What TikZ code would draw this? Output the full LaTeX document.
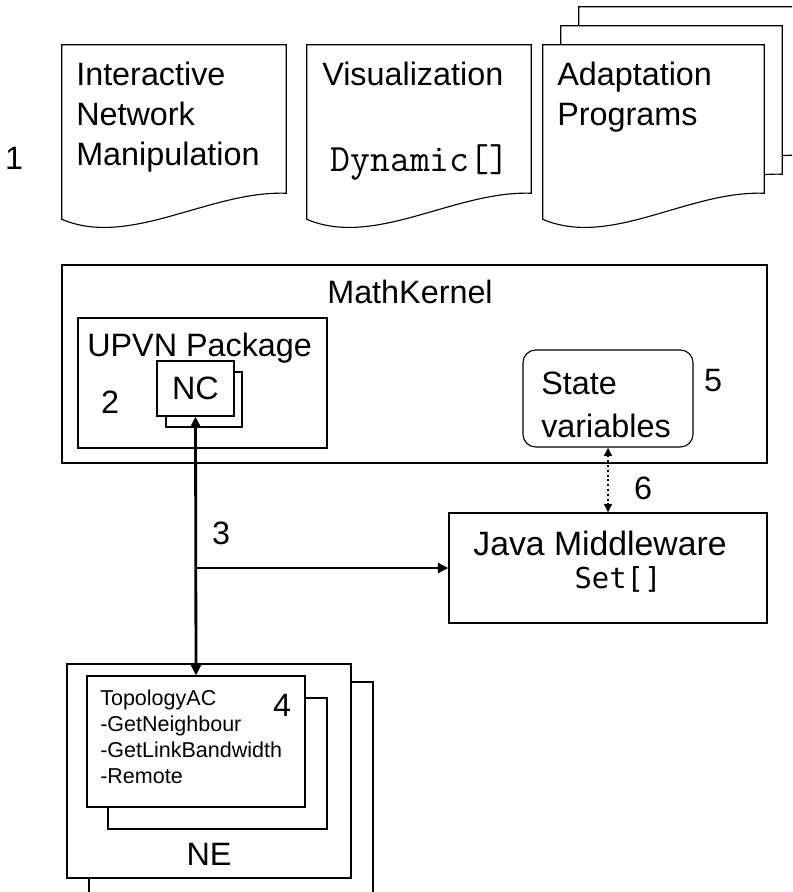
\documentclass[tikz,border=0pt]{standalone}
\usepackage{fontspec}
\setmainfont{Liberation Sans}
\newfontfamily\dejavumono{DejaVu Sans Mono}
\usepackage{tikz}
\usetikzlibrary{arrows.meta,calc,fit}
\newcommand{\bigtext}{\fontsize{23}{28.4}\selectfont}
\newcommand{\smalltext}{\fontsize{15.3}{18.5}\selectfont}
\tikzset{
  box/.style    = {draw, line width=0.8pt, fill=white, inner sep=0pt},
  page/.style   = {inner sep=0pt},
  txt/.style    = {font=\bigtext, inner sep=0pt, align=left},
  num/.style    = {font=\bigtext, inner sep=0pt},
  flow/.style   = {line width=2pt, -{Triangle[length=7.5pt,width=7pt]}},
  twoway/.style = {line width=2pt,
                   {Triangle[length=7.5pt,width=7pt]}-{Triangle[length=7.5pt,width=7pt]}},
  sync/.style   = {line width=1.4pt, dotted,
                   {Triangle[length=6pt,width=5.5pt]}-{Triangle[length=6pt,width=5.5pt]}}
}
% page outline with a wavy bottom edge
\newcommand{\docoutline}[1]{%
  \draw[line width=0.8pt, fill=white] (#1.north west) -- (#1.north east) -- (#1.south east)
    .. controls ($(#1.south east)+(-76,-3)$) and ($(#1.south west)+(68,55)$)
    .. ($(#1.south west)+(0,26)$) -- cycle;}

\begin{document}
\begin{tikzpicture}[x=0.025cm,y=-0.025cm]
 \useasboundingbox (0,0) rectangle (792,892);
 \clip (0,0) rectangle (792,892);

 % front end
 \node[num] (one) at (14,158) {1};
 \node[page, fit={(62,45)(286,193)}] (inter) {};
 \docoutline{inter}
 \node[txt, anchor=north west] (intertxt) at (76,62) {Interactive\\Network\\Manipulation};

 \node[page, fit={(307,45)(531,193)}] (visu) {};
 \docoutline{visu}
 \node[txt, anchor=north west] (visutxt) at (322,62) {Visualization};
 \node[inner sep=0pt, anchor=base, font=\ttfamily\fontsize{27.5}{30}\selectfont]
   (dyn) at (420,172) {Dynamic[]};

 \node[page, fit={(579,7)(800,155)}] (adaptc) {};
 \docoutline{adaptc}
 \node[page, fit={(561,26)(782,174)}] (adaptb) {};
 \docoutline{adaptb}
 \node[page, fit={(543,45)(764,193)}] (adapt) {};
 \docoutline{adapt}
 \node[txt, anchor=north west] (adapttxt) at (557,62) {Adaptation\\Programs};

 % kernel
 \node[box, fit={(62,265)(767,463)}] (kernel) {};
 \node[txt, anchor=base] (kerneltxt) at (410,303) {MathKernel};

 \node[box, fit={(78,318)(327,448)}] (upvn) {};
 \node[txt, anchor=base west] (upvntxt) at (87,356) {UPVN Package};
 \node[box, fit={(166,372)(242,427)}] (ncback) {};
 \node[box, fit={(157,361)(234,416)}, label={[txt]center:NC}] (nc) {};
 \node[num] (two) at (110,402) {2};

 \node[box, rounded corners=9pt, fit={(523,350)(693,447)}] (state) {};
 \node[txt, anchor=north west, font=\fontsize{23}{30.6}\selectfont] (statetxt) at (541,372) {State\\variables};
 \node[num] (five) at (713,381) {5};

 % middleware
 \node[box, fit={(449,513)(767,623)}] (java) {};
 \node[txt, anchor=base, font=\fontsize{24}{28}\selectfont] (javatxt) at (600,555) {Java Middleware};
 \node[inner sep=0pt, anchor=base, font=\dejavumono\fontsize{20.5}{24}\selectfont]
   (set) at (618,588) {Set[]};
 \node[num] (six) at (643,488) {6};

 % network elements
 \node[box, fit={(89,682)(373,950)}] (neback) {};
 \node[box, fit={(67,664)(351,878)}] (ne) {};
 \node[txt] (netxt) at (209,854) {NE};
 \node[box, fit={(108,698)(327,829)}] (topoback) {};
 \node[box, fit={(87,676)(305,807)}] (topo) {};
 \node[inner sep=0pt, anchor=north west, align=left, font=\smalltext]
   (topotxt) at (100,690) {TopologyAC\\-GetNeighbour\\-GetLinkBandwidth\\-Remote};
 \node[num] (four) at (282,705) {4};

 % connectors
 \draw[twoway] (nc.south) -- (topo.north);
 \coordinate (split) at (nc.south |- java.west);
 \draw[flow] (split) -- (java.west);
 \node[num] (three) at (221,533) {3};
 \draw[sync] (state.south) -- (java.north);
\end{tikzpicture}
\end{document}
